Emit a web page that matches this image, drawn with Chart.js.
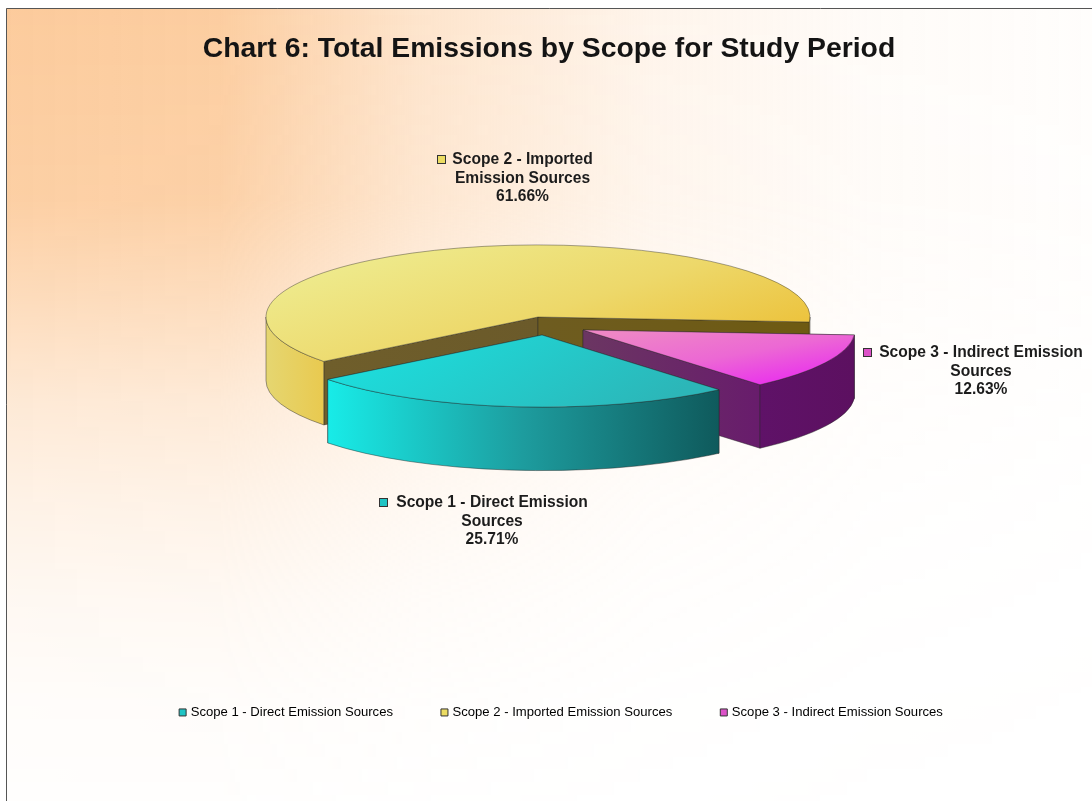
<!DOCTYPE html>
<html>
<head>
<meta charset="utf-8">
<style>
  html, body { margin: 0; padding: 0; background: #fff; }
  canvas { display: block; }
</style>
<script src="https://cdn.jsdelivr.net/npm/chart.js@4"></script>
</head>
<body>
<canvas id="chart" width="1092" height="801"></canvas>
<script>
// Emission shares by scope, in percent
const categories = ['Scope 1 - Direct Emission Sources', 'Scope 2 - Imported Emission Sources', 'Scope 3 - Indirect Emission Sources'];
const shares = [25.71, 61.66, 12.63];
const titleText = 'Chart 6: Total Emissions by Scope for Study Period';

// Label text, broken the way it is set on the chart
const labelLines = [
  ['Scope 1 - Direct Emission', 'Sources'],
  ['Scope 2 - Imported', 'Emission Sources'],
  ['Scope 3 - Indirect Emission', 'Sources']
];

// Pie geometry: tilted disc with extruded rim and two pulled-out slices
const R = 272;
const TILT = 0.265;
const DEPTH = 63.5;
const FIRST_SLICE_ROTATION = 139.4;
const sliceCentres = [[542, 335], [538, 317], [583, 330]];
const drawOrder = [1, 2, 0];

// Slice surface shading
const topShade = [
  { line: [-0.8, -0.3, 0.7, 0.3], stops: ['#18e8e6', '#2cb6b8'] },
  { line: [-0.7, -0.8, 0.9, 0.5], stops: ['#eeea8c', '#edd86a', '#ecbe33'] },
  { line: [0.2, 0, 0.75, 0.8], stops: ['#ee86c6', '#ec68d4', '#e92af0'] }
];
const rimShade = [
  { from: -0.79, to: 0.65, stops: ['#18ece8', '#1d9c9e', '#0f5a5c'] },
  { from: -1, to: -0.78, stops: ['#e5d671', '#e9c94e'] },
  { from: 0.64, to: 1, stops: ['#5f1268', '#5c1060'] }
];
// Cut faces: [start-angle side, end-angle side], each apex colour then rim colour
const faceColours = [
  [['#17807f', '#17807f'], ['#17807f', '#17807f']],
  [['#6b5a2a', '#6f5e2b'], ['#6e5c20', '#6e5a12']],
  [['#65206a', '#65206a'], ['#6b3662', '#681c6c']]
];
const legendColours = ['#1fc4c4', '#ecdc62', '#dc52c8'];
const outline = 'rgba(40,40,40,0.65)';

// Background wash: peach strength along x and along y, multiplied together
const washAlongX = [[0, 1], [220, 0.96], [415, 0.52], [650, 0.2], [870, 0.07], [1092, 0.03]];
const washAlongY = [[0, 1], [200, 0.92], [300, 0.68], [400, 0.42], [500, 0.25], [600, 0.13], [700, 0.05], [801, 0.02]];

// Where the labels sit: centre x of the text, first line centre y, marker x
const labelPlacement = [
  { x: 492, y: 503, mx: 379 },
  { x: 522.5, y: 160, mx: 437 },
  { x: 981, y: 353, mx: 863 }
];

function topGradient(c) {
  const chart = c.chart, area = chart.chartArea;
  const s = topShade[c.dataIndex];
  if (!area || !s) return legendColours[c.dataIndex];
  const cx = (area.left + area.right) / 2, cy = (area.top + area.bottom) / 2;
  const g = chart.ctx.createLinearGradient(cx + s.line[0] * R, cy + s.line[1] * R, cx + s.line[2] * R, cy + s.line[3] * R);
  s.stops.forEach((col, i) => g.addColorStop(i / (s.stops.length - 1), col));
  return g;
}

function alphaRamp(ctx, stops, horizontal, span) {
  const g = horizontal ? ctx.createLinearGradient(0, 0, span, 0) : ctx.createLinearGradient(0, 0, 0, span);
  stops.forEach(([at, a]) => g.addColorStop(at / span, `rgba(252,203,156,${a})`));
  return g;
}

const backdrop = {
  id: 'backdrop',
  beforeDraw(chart) {
    const { ctx, width, height } = chart;
    const layer = document.createElement('canvas');
    layer.width = width;
    layer.height = height;
    const l = layer.getContext('2d');
    l.fillStyle = alphaRamp(l, washAlongX, true, width);
    l.fillRect(0, 0, width, height);
    l.globalCompositeOperation = 'destination-in';
    l.fillStyle = alphaRamp(l, washAlongY, false, height);
    l.fillRect(0, 0, width, height);

    ctx.save();
    ctx.fillStyle = '#fff';
    ctx.fillRect(0, 0, width, height);
    ctx.beginPath();
    ctx.rect(6, 8, width - 6, height - 8);
    ctx.clip();
    ctx.drawImage(layer, 0, 0);
    ctx.restore();

    ctx.save();
    ctx.strokeStyle = '#555';
    ctx.lineWidth = 1;
    ctx.beginPath();
    ctx.moveTo(6.5, height);
    ctx.lineTo(6.5, 8.5);
    ctx.lineTo(width, 8.5);
    ctx.stroke();
    ctx.restore();
  }
};

function visibleRimSpans(a0, a1) {
  const spans = [];
  for (let n = 0; n < 3; n++) {
    const lo = Math.max(a0, 2 * Math.PI * n), hi = Math.min(a1, Math.PI + 2 * Math.PI * n);
    if (hi > lo) spans.push([lo, hi]);
  }
  return spans;
}

const extrudedPie = {
  id: 'extrudedPie',
  afterLayout(chart) {
    // The legend row sits a little right of the title's centre line
    chart.legend.left += 13;
    chart.legend.right += 13;
  },
  beforeDatasetsDraw(chart) {
    const { ctx } = chart;
    const arcs = chart.getDatasetMeta(0).data;
    const ry = R * TILT;
    drawOrder.forEach(i => {
      const arc = arcs[i];
      const { startAngle, endAngle } = arc.getProps(['startAngle', 'endAngle'], true);
      const [X, Y] = sliceCentres[i];
      ctx.save();
      ctx.lineWidth = 0.7;
      ctx.strokeStyle = outline;

      // Cut faces running from the apex to the rim
      [startAngle, endAngle].forEach((a, f) => {
        const ex = X + R * Math.cos(a), ey = Y + ry * Math.sin(a);
        const fill = ctx.createLinearGradient(X, 0, ex, 0);
        fill.addColorStop(0, faceColours[i][f][0]);
        fill.addColorStop(1, faceColours[i][f][1]);
        ctx.beginPath();
        ctx.moveTo(X, Y);
        ctx.lineTo(ex, ey);
        ctx.lineTo(ex, ey + DEPTH);
        ctx.lineTo(X, Y + DEPTH);
        ctx.closePath();
        ctx.fillStyle = fill;
        ctx.fill();
        ctx.stroke();
      });

      // Outer rim, only the part turned towards the viewer
      const shade = rimShade[i];
      const g = ctx.createLinearGradient(X + shade.from * R, 0, X + shade.to * R, 0);
      shade.stops.forEach((c, s) => g.addColorStop(s / (shade.stops.length - 1), c));
      visibleRimSpans(startAngle, endAngle).forEach(([lo, hi]) => {
        ctx.beginPath();
        ctx.ellipse(X, Y, R, ry, 0, lo, hi);
        ctx.lineTo(X + R * Math.cos(hi), Y + ry * Math.sin(hi) + DEPTH);
        ctx.ellipse(X, Y + DEPTH, R, ry, 0, hi, lo, true);
        ctx.closePath();
        ctx.fillStyle = g;
        ctx.fill();
        ctx.stroke();
      });
      ctx.restore();

      // Top surface: the library's own arc, squashed into the tilted plane
      ctx.save();
      ctx.translate(X, Y);
      ctx.scale(1, TILT);
      ctx.translate(-arc.x, -arc.y);
      arc.draw(ctx);
      ctx.restore();
    });
    return false;
  },
  afterDraw(chart) {
    const { ctx } = chart;
    ctx.save();
    ctx.font = 'bold 15.6px "Liberation Sans", Arial, sans-serif';
    ctx.textAlign = 'center';
    ctx.textBaseline = 'middle';
    labelPlacement.forEach((p, i) => {
      const lines = [...labelLines[i], shares[i].toFixed(2) + '%'];
      ctx.fillStyle = '#1c1c1c';
      lines.forEach((t, l) => ctx.fillText(t, p.x, p.y + l * 18.5));
      ctx.fillStyle = legendColours[i];
      ctx.strokeStyle = '#333';
      ctx.lineWidth = 1;
      ctx.fillRect(p.mx + 0.5, p.y - 4.5, 8, 8);
      ctx.strokeRect(p.mx + 0.5, p.y - 4.5, 8, 8);
    });
    ctx.restore();
  }
};

new Chart(document.getElementById('chart'), {
  type: 'pie',
  data: {
    labels: categories,
    datasets: [{
      data: shares,
      backgroundColor: topGradient,
      borderColor: outline,
      borderWidth: 1,
      radius: R
    }]
  },
  options: {
    responsive: false,
    animation: false,
    rotation: FIRST_SLICE_ROTATION,
    layout: { padding: { left: 6, bottom: 72, top: 0 } },
    plugins: {
      tooltip: { enabled: false },
      title: {
        display: true,
        text: titleText,
        color: '#141414',
        font: { family: '"Liberation Sans", Arial, sans-serif', size: 28.35, weight: 'bold' },
        padding: { top: 32, bottom: 10 }
      },
      legend: {
        position: 'bottom',
        labels: {
          usePointStyle: true,
          pointStyle: 'rect',
          boxWidth: 3,
          boxHeight: 7,
          padding: 50,
          color: '#222',
          font: { family: '"Liberation Sans", Arial, sans-serif', size: 13.1 },
          generateLabels: () => categories.map((text, i) => ({
            text,
            fillStyle: legendColours[i],
            strokeStyle: '#333',
            lineWidth: 1,
            pointStyle: 'rect',
            index: i
          }))
        }
      }
    }
  },
  plugins: [backdrop, extrudedPie]
});
</script>
</body>
</html>
